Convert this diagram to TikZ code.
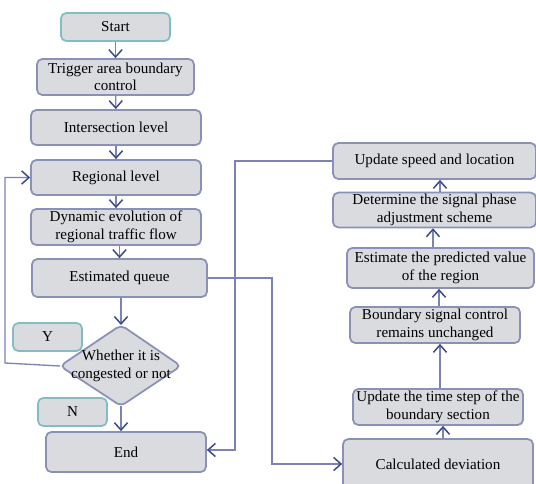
\documentclass[tikz,border=0pt]{standalone}
\usepackage{fontspec}
\setmainfont{Liberation Serif}
\usetikzlibrary{arrows.meta,calc}
\definecolor{boxfill}{HTML}{DADBDE}
\definecolor{boxline}{HTML}{8A90B8}
\definecolor{tealline}{HTML}{84BCC6}
\definecolor{conn}{HTML}{7A82B6}
\definecolor{tipc}{HTML}{3C4A8C}
\tikzset{
  box/.style={draw=boxline, fill=boxfill, line width=1pt, rounded corners=3pt,
    align=center, inner sep=1pt, font=\fontsize{8.6}{10}\selectfont},
  tbox/.style={box, draw=tealline},
  wh/.style 2 args={minimum width=#1*0.02cm, minimum height=#2*0.02cm},
  arr/.style={draw=conn, line width=0.75pt,
    -{Straight Barb[length=4.2pt,width=7.5pt,line width=0.85pt,color=tipc]}},
}
\begin{document}
\begin{tikzpicture}[x=0.02cm,y=-0.02cm]
\useasboundingbox (0,0) rectangle (536,483);
\clip (0,0) rectangle (536,483);
% left column
\node[tbox,wh={109}{28}] (start) at (115.5,27) {Start};
\node[box,wh={157}{36}] (trig) at (115.5,77) {Trigger area boundary\\control};
\node[box,wh={170}{35}] (inter) at (116,127.5) {Intersection level};
\node[box,wh={170}{35}] (reg) at (116,177.5) {Regional level};
\node[box,wh={170}{36}] (dyn) at (116,227) {Dynamic evolution of\\regional traffic flow};
\node[box,wh={175}{38}] (eq) at (119.5,278) {Estimated queue};
% diamond
\coordinate (dtop) at (121,325);
\coordinate (dbot) at (121,406);
\coordinate (dleft) at (60,366);
\coordinate (dright) at (181,366);
\draw[draw=boxline, fill=boxfill, line width=1pt, rounded corners=3pt]
  (dtop) -- (dright) -- (dbot) -- (dleft) -- cycle;
\node[font=\fontsize{8.6}{10}\selectfont, align=center, inner sep=0pt] (dia) at (121,366)
  {Whether it is\\congested or not};
\node[tbox,wh={69}{28}] (ybox) at (47.5,337) {Y};
\node[tbox,wh={69}{28}] (nbox) at (72.5,412) {N};
\node[box,wh={160}{40}] (end) at (126,452) {End};
% right column
\node[box,wh={203}{36}] (ups) at (434.5,161) {Update speed and location};
\node[box,wh={203}{34}] (det) at (434.5,210) {Determine the signal phase\\adjustment scheme};
\node[box,wh={187}{40}] (est) at (440.5,268) {Estimate the predicted value\\of the region};
\node[box,wh={170}{36}] (bsc) at (435,325) {Boundary signal control\\remains unchanged};
\node[box,wh={170}{36}] (uts) at (438,407) {Update the time step of the\\boundary section};
\node[box,wh={190}{62}] (calc) at (438,470) {};
\node[font=\fontsize{8.6}{10}\selectfont, inner sep=0pt] (calct) at (438,464) {Calculated deviation};
% connectors left
\draw[arr] (start) -- (trig);
\draw[arr] (trig) -- (inter);
\draw[arr] (inter) -- (reg);
\draw[arr] (reg) -- (dyn);
\draw[arr] (dyn.south -| eq.north) -- (eq.north);
\draw[arr] (eq.south -| dtop) -- (dtop);
\draw[arr] (dbot) -- (dbot |- end.north);
\coordinate (loopc) at (5,363);
\draw[arr] (dleft) -- (loopc) |- (reg.west);
% cross connectors
\coordinate (q1) at (272,464);
\draw[arr] (eq.east) -| (q1) -- (q1 -| calc.west);
\coordinate (u1) at (235,450);
\draw[arr] (ups.west) -| (u1) -- (u1 -| end.east);
% right column upward
\coordinate (x443) at (443,0);
\coordinate (x440) at (440,0);
\coordinate (x439) at (439,0);
\coordinate (x433) at (433,0);
\draw[arr] (calc.north -| x443) -- (uts.south -| x443);
\draw[arr] (uts.north -| x440) -- (bsc.south -| x440);
\draw[arr] (bsc.north -| x439) -- (est.south -| x439);
\draw[arr] (est.north -| x433) -- (det.south -| x433);
\draw[arr] (det.north -| x440) -- (ups.south -| x440);
\end{tikzpicture}
\end{document}
